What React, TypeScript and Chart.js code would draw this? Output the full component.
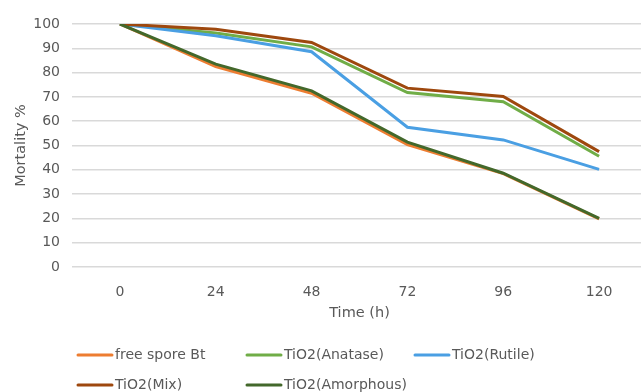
import React, { useEffect, useRef } from "react";
import { Chart, registerables } from "chart.js";

Chart.register(...registerables);

const categories = ["0", "24", "48", "72", "96", "120"];
const freeSporeBt = [100, 82.5, 71.5, 50.4, 38.4, 19.8];
const tio2Anatase = [100, 96.3, 90.6, 71.8, 68, 45.6];
const tio2Rutile = [100, 95.2, 88.6, 57.5, 52.3, 40.2];
const tio2Mix = [100, 97.8, 92.4, 73.6, 70.2, 47.5];
const tio2Amorphous = [100, 83.5, 72.5, 51.4, 38.6, 20];
const yTicks = [0, 10, 20, 30, 40, 50, 60, 70, 80, 90, 100];

const FONT = "'DejaVu Sans', sans-serif";
const TEXT = "#595959";

const legendPlugin = {
  id: "gridLegend",
  afterDraw(chart: any) {
    const ctx = chart.ctx;
    const cols = [78, 247, 415];
    const rows = [355, 385];
    ctx.save();
    ctx.font = `14px ${FONT}`;
    ctx.fillStyle = TEXT;
    ctx.textBaseline = "middle";
    ctx.textAlign = "left";
    chart.data.datasets.forEach((ds: any, i: number) => {
      const x = cols[i % 3];
      const y = rows[Math.floor(i / 3)];
      ctx.strokeStyle = ds.borderColor;
      ctx.lineWidth = 3;
      ctx.lineCap = "round";
      ctx.beginPath();
      ctx.moveTo(x, y);
      ctx.lineTo(x + 34, y);
      ctx.stroke();
      ctx.fillText(ds.label, x + 37, y);
    });
    ctx.restore();
  },
};

export default function App() {
  const ref = useRef<HTMLCanvasElement>(null);
  useEffect(() => {
    if (!ref.current) return;
    const mk = (label: string, data: number[], color: string, order: number) => ({
      label,
      data,
      borderColor: color,
      backgroundColor: color,
      borderWidth: 3,
      pointRadius: 0,
      tension: 0,
      order,
    });
    const chart = new Chart(ref.current, {
      type: "line",
      data: {
        labels: categories,
        datasets: [
          mk("free spore Bt", freeSporeBt, "#ED7D31", 4),
          mk("TiO2(Anatase)", tio2Anatase, "#70AD47", 3),
          mk("TiO2(Rutile)", tio2Rutile, "#4A9FE3", 2),
          mk("TiO2(Mix)", tio2Mix, "#9E480E", 1),
          mk("TiO2(Amorphous)", tio2Amorphous, "#43682B", 0),
        ],
      },
      options: {
        responsive: false,
        animation: false,
        layout: { padding: { left: 0, right: 3, top: 24, bottom: 70 } },
        plugins: { legend: { display: false }, tooltip: { enabled: false } },
        scales: {
          x: {
            offset: true,
            grid: { display: false },
            border: { display: false },
            ticks: { color: TEXT, font: { family: FONT, size: 14 }, padding: 9 },
            title: {
              display: true,
              text: "Time (h)",
              color: TEXT,
              font: { family: FONT, size: 14.5 },
              padding: { top: 6, bottom: 0 },
            },
            afterFit(scale: any) {
              scale.height = 55;
            },
          },
          y: {
            min: 0,
            max: 100,
            border: { display: false },
            grid: { color: "#d9d9d9", lineWidth: 1.5, drawTicks: false },
            afterBuildTicks(scale: any) {
              scale.ticks = yTicks.map((v) => ({ value: v }));
            },
            ticks: { color: TEXT, font: { family: FONT, size: 14 }, padding: 12 },
            title: {
              display: true,
              text: "Mortality %",
              color: TEXT,
              font: { family: FONT, size: 14.5 },
              padding: { top: 13, bottom: 0 },
            },
            afterFit(scale: any) {
              scale.width = 72;
            },
          },
        },
      },
      plugins: [legendPlugin],
    });
    return () => chart.destroy();
  }, []);
  return (
    <div
      style={{
        position: "fixed",
        left: 0,
        top: 0,
        width: 641,
        height: 392,
        overflow: "hidden",
        background: "#fff",
      }}
    >
      <canvas ref={ref} width={650} height={392} style={{ display: "block" }} />
    </div>
  );
}
